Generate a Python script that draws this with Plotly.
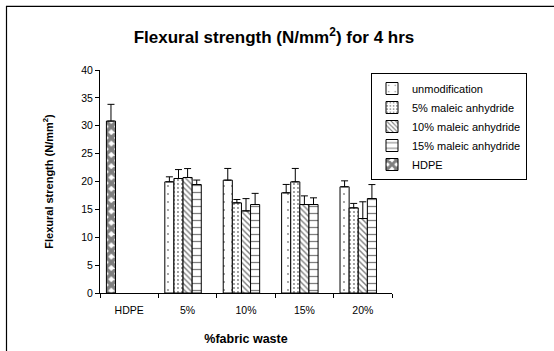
import plotly.graph_objects as go

# ---- data ----
categories = ["HDPE", "5%", "10%", "15%", "20%"]
series_names = ["unmodification", "5% maleic anhydride", "10% maleic anhydride",
                "15% maleic anhydride", "HDPE"]
unmod = [None, 19.94, 20.24, 17.97, 19.05]
ma5 = [None, 20.54, 16.17, 19.94, 15.27]
ma10 = [None, 20.72, 14.73, 15.87, 13.36]
ma15 = [None, 19.46, 15.87, 15.87, 16.95]
hdpe = [30.84, None, None, None, None]
unmod_err = [None, 0.9, 2.1, 1.5, 1.07]
ma5_err = [None, 1.6, 0.6, 2.4, 0.8]
ma10_err = [None, 1.6, 2.2, 1.55, 3.0]
ma15_err = [None, 0.8, 2.0, 1.2, 2.5]
hdpe_err = [3.0, None, None, None, None]
y_ticks = [0, 5, 10, 15, 20, 25, 30, 35, 40]

# ---- layout geometry (pixels) ----
W, H = 554, 351
L, R, T, B = 100, 392, 70, 292.7
pw, ph = R - L, B - T

def px_x(x):
    return (x - L) / pw

def px_y(y):
    return (B - y) / ph

FONT = "Liberation Sans, Arial, sans-serif"

bar_w = 0.156
start = -0.39
slot = [start + i * bar_w for i in range(5)]

styles = [
    dict(shape=".", size=8, solidity=0.04),
    dict(shape=".", size=4, solidity=0.18),
    dict(shape="\\", size=4, solidity=0.35),
    dict(shape="-", size=7, solidity=0.18),
    dict(shape="x", size=8, solidity=0.72),
]

data_sets = [unmod, ma5, ma10, ma15, hdpe]
errs = [unmod_err, ma5_err, ma10_err, ma15_err, hdpe_err]
offsets = [slot[0], slot[1], slot[2], slot[3], slot[0]]

fig = go.Figure()
for name, vals, err, st, off in zip(series_names, data_sets, errs, styles, offsets):
    fig.add_trace(go.Bar(
        x=categories, y=vals, name=name,
        width=bar_w, offset=off,
        marker=dict(color="white", line=dict(color="black", width=1),
                    pattern=dict(shape=st["shape"], size=st["size"],
                                 solidity=st["solidity"], fgcolor="black",
                                 bgcolor="white")),
        error_y=dict(type="data", array=err, arrayminus=[0] * len(err),
                     symmetric=False, color="black", thickness=1, width=3.5),
    ))

fig.update_layout(
    width=W, height=H,
    margin=dict(l=L, r=W - R, t=T, b=H - B, autoexpand=False),
    paper_bgcolor="white", plot_bgcolor="white",
    barmode="overlay",
    font=dict(family=FONT, color="black"),
    title=dict(text="Flexural strength (N/mm<sup>2</sup>) for 4 hrs",
               x=274 / W, y=1 - 37 / H, xref="container", yref="container",
               xanchor="center", yanchor="middle",
               font=dict(size=17, weight="bold", family=FONT, color="black")),
    legend=dict(x=px_x(527), y=px_y(73), xanchor="right", yanchor="top",
                bordercolor="black", borderwidth=1, bgcolor="white",
                font=dict(size=11, family=FONT), itemwidth=30,
                traceorder="normal"),
    xaxis=dict(type="category", range=[-0.5, 4.5], showline=True,
               linecolor="black", linewidth=1, ticks="outside", ticklen=4,
               tickcolor="black", tickson="boundaries", showgrid=False,
               tickfont=dict(size=10.5, family=FONT), ticklabelstandoff=7,
               title=dict(text="%fabric waste", standoff=19,
                          font=dict(size=12.5, weight="bold", family=FONT))),
    yaxis=dict(range=[0, 40], tickvals=y_ticks, showline=True, linecolor="black",
               linewidth=1, ticks="outside", ticklen=4, tickcolor="black",
               showgrid=False, zeroline=False,
               tickfont=dict(size=10.5, family=FONT),
               title=dict(text="Flexural strength (N/mm<sup>2</sup>)", standoff=25,
                          font=dict(size=11, weight="bold", family=FONT))),
    shapes=[dict(type="rect", xref="paper", yref="paper",
                 x0=px_x(6.5), y0=px_y(H + 20), x1=px_x(W + 20), y1=px_y(6.5),
                 line=dict(color="black", width=1.2), layer="below")],
)

fig.write_html("out.html")
